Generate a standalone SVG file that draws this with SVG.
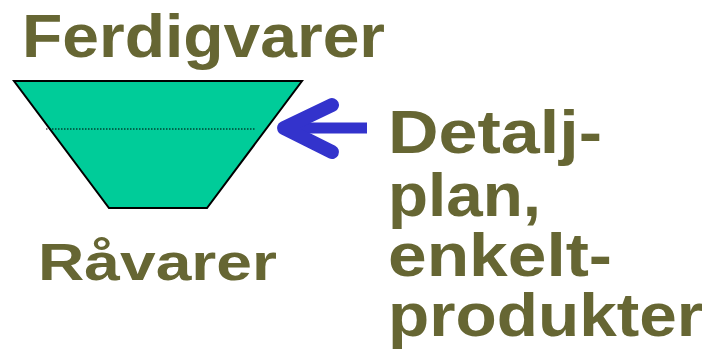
<svg xmlns="http://www.w3.org/2000/svg" width="710" height="352" viewBox="0 0 710 352">
  <style>
    .lbl { font-family: "Liberation Sans", Arial, sans-serif; font-weight: bold; fill: #666633; }
    .big { font-size: 62px; }
    .mid { font-size: 52px; }
  </style>
  <rect width="710" height="352" fill="#ffffff"/>

  <g id="funnel">
    <polygon points="14,81 302,81 207,208 109,208" fill="#00CC99" stroke="#000000" stroke-width="2" stroke-linejoin="miter"/>
    <line x1="46" y1="129" x2="256" y2="129" stroke="#000000" stroke-width="1.2" stroke-dasharray="1.5,1.5"/>
  </g>

  <g id="label-top">
    <text class="lbl big" x="22" y="57" textLength="363" lengthAdjust="spacingAndGlyphs">Ferdigvarer</text>
  </g>

  <g id="label-bottom">
    <text class="lbl mid" x="38" y="280" textLength="239" lengthAdjust="spacingAndGlyphs">Råvarer</text>
  </g>

  <g id="label-right">
    <text class="lbl big" x="388" y="153" textLength="214" lengthAdjust="spacingAndGlyphs">Detalj-</text>
    <text class="lbl big" x="388" y="216" textLength="153" lengthAdjust="spacingAndGlyphs">plan,</text>
    <text class="lbl big" x="388" y="276" textLength="224" lengthAdjust="spacingAndGlyphs">enkelt-</text>
    <text class="lbl big" x="388" y="336" textLength="315" lengthAdjust="spacingAndGlyphs">produkter</text>
  </g>

  <g id="connectors">
    <g stroke="#3333CC" fill="none" stroke-linecap="round" stroke-linejoin="round">
      <line x1="284" y1="128" x2="367" y2="128" stroke-width="11" stroke-linecap="butt"/>
      <polyline points="332,105 284,128 332,152" stroke-width="14"/>
    </g>
  </g>
</svg>
